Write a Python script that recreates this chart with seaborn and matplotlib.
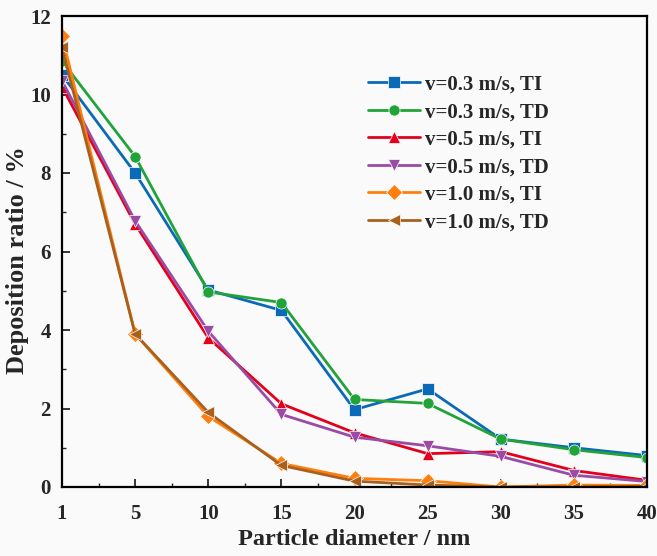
import matplotlib
matplotlib.use("Agg")
import matplotlib.pyplot as plt
from matplotlib.ticker import MultipleLocator
import pandas as pd
import seaborn as sns

diameters = ["1", "5", "10", "15", "20", "25", "30", "35", "40"]
v03_ti = [10.5, 8.0, 5.02, 4.5, 1.97, 2.5, 1.22, 1.0, 0.8]
v03_td = [10.85, 8.42, 4.97, 4.7, 2.23, 2.13, 1.22, 0.95, 0.75]
v05_ti = [10.2, 6.7, 3.8, 2.12, 1.38, 0.85, 0.9, 0.42, 0.17]
v05_td = [10.35, 6.78, 3.97, 1.85, 1.27, 1.05, 0.78, 0.3, 0.14]
v10_ti = [11.5, 3.9, 1.8, 0.6, 0.22, 0.16, 0.0, 0.05, 0.04]
v10_td = [11.2, 3.9, 1.9, 0.55, 0.15, 0.05, 0.0, 0.0, 0.02]

series_names = ["v=0.3 m/s, TI", "v=0.3 m/s, TD", "v=0.5 m/s, TI",
                "v=0.5 m/s, TD", "v=1.0 m/s, TI", "v=1.0 m/s, TD"]
series_values = [v03_ti, v03_td, v05_ti, v05_td, v10_ti, v10_td]
colors = ["#0a6ab8", "#22a33a", "#e3001b", "#9b4aa5", "#ff7f0e", "#a8601f"]
markers = ["s", "o", "^", "v", "D", "<"]

rows = []
for name, vals in zip(series_names, series_values):
    for d, v in zip(diameters, vals):
        rows.append({"Particle diameter": d, "Deposition ratio": v, "Case": name})
df = pd.DataFrame(rows)

sns.set_theme(style="ticks")
plt.rcParams["font.family"] = ["Liberation Serif", "DejaVu Serif"]
plt.rcParams["font.weight"] = "bold"

fig = plt.figure(figsize=(6.57, 5.56), dpi=100, facecolor="#fafafa")
ax = fig.add_axes([62 / 657, 69 / 556, 585 / 657, 471 / 556])
ax.set_facecolor("#fafafa")

sns.lineplot(data=df, x="Particle diameter", y="Deposition ratio", hue="Case",
             style="Case", hue_order=series_names, style_order=series_names,
             palette=colors, markers=markers, dashes=False, markersize=8,
             linewidth=2, markeredgewidth=0.5, sort=False, ax=ax)

ax.set_xlim(0, len(diameters) - 1)
ax.set_ylim(0, 12)
ax.yaxis.set_major_locator(MultipleLocator(2))
ax.yaxis.set_minor_locator(MultipleLocator(1))
ax.xaxis.set_minor_locator(MultipleLocator(0.5))
ax.tick_params(which="major", direction="in", length=6, width=1.3,
               labelsize=15, top=False, right=False)
ax.tick_params(axis="x", which="major", pad=12)
ax.tick_params(axis="y", which="major", pad=8)
ax.tick_params(which="minor", direction="in", length=3, width=1.0,
               top=False, right=False)
for lab in ax.get_xticklabels() + ax.get_yticklabels():
    lab.set_fontweight("bold")
for sp in ax.spines.values():
    sp.set_linewidth(1.6)
    sp.set_color("black")

ax.set_xlabel("Particle diameter / nm", fontsize=17.5, fontweight="bold")
ax.set_ylabel("Deposition ratio / %", fontsize=19, fontweight="bold")
ax.xaxis.set_label_coords(0.5, -0.09)
ax.yaxis.set_label_coords(-0.056, 0.482)

leg = ax.legend(loc="upper left", bbox_to_anchor=(287 / 585, 0.915),
                frameon=False, prop={"weight": "bold", "size": 15},
                handlelength=2.5, labelspacing=0.36, handletextpad=0.25)

fig.savefig("out.png", dpi=100, facecolor=fig.get_facecolor())
